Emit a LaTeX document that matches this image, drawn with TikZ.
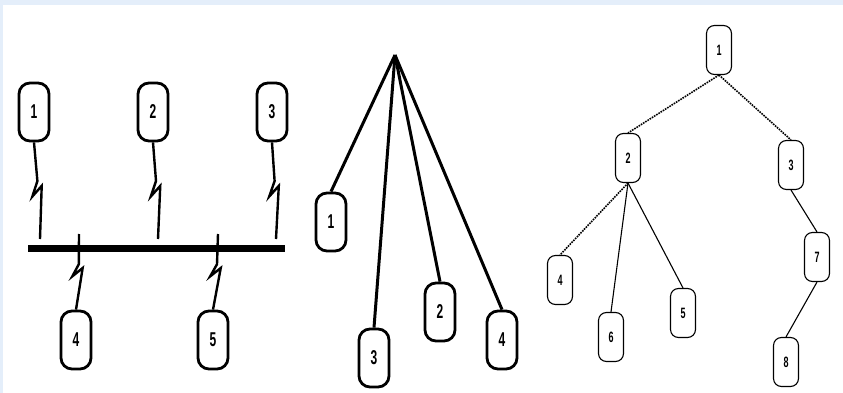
\documentclass[tikz,border=0pt]{standalone}
\usepackage{fontspec}
\usepackage{graphicx}
\setmainfont{Liberation Sans}
\usetikzlibrary{calc}
\definecolor{bgblue}{HTML}{E4EEFA}
\newcommand\bigdig[1]{\scalebox{0.6}[1]{\fontsize{20}{20}\selectfont\bfseries #1}}
\newcommand\smalldig[1]{\scalebox{0.6}[1]{\fontsize{15}{15}\selectfont\bfseries #1}}
\newcommand\boltline[2]{\draw[boltstyle] (#1) -- ($(#1)!0.40!(#2)+(1,0)$) -- ($(#1)!0.56!(#2)+(-5,0)$) -- ($(#1)!0.45!(#2)+(5,0)$) -- (#2);}
\begin{document}
\begin{tikzpicture}[x=1pt,y=-1pt,
  bignode/.style={draw, line width=2.8pt, rounded corners=11pt, minimum width=30pt, minimum height=58pt, inner sep=0pt},
  smallnode/.style={draw, line width=1.1pt, rounded corners=8pt, minimum width=25pt, minimum height=49pt, inner sep=0pt},
  boltstyle/.style={line width=2.4pt, line join=miter},
  spoke/.style={line width=3pt},
  treeedge/.style={line width=1.1pt},
  thickedge/.style={line width=1.6pt, densely dotted}]
\useasboundingbox (0,0) rectangle (843,393);
\fill[bgblue] (0,0) rectangle (843,393);
\fill[white] (3,5) rectangle (843,393);

% ---------- left: bus ----------
\coordinate (busL) at (28,248);
\coordinate (busR) at (285,248);
\draw[line width=7pt] (busL) -- (busR);
\node[bignode] (n1) at (34,112) {\bigdig{1}};
\node[bignode] (n2) at (153,112) {\bigdig{2}};
\node[bignode] (n3) at (272,112) {\bigdig{3}};
\node[bignode] (n4) at (76,340) {\bigdig{4}};
\node[bignode] (n5) at (213,340) {\bigdig{5}};
\coordinate (t1) at (40,239);
\coordinate (t2) at (158,239);
\coordinate (t3) at (276,239);
\coordinate (t4) at (79,234);
\coordinate (t5) at (218,234);
\boltline{n1.south}{t1}
\boltline{n2.south}{t2}
\boltline{n3.south}{t3}
\boltline{t4}{n4.north}
\boltline{t5}{n5.north}

% ---------- middle: star ----------
\coordinate (apex) at (395,55);
\node[bignode] (m1) at (331,222) {\bigdig{1}};
\node[bignode] (m3) at (374,358) {\bigdig{3}};
\node[bignode] (m2) at (440,312) {\bigdig{2}};
\node[bignode] (m4) at (502,340) {\bigdig{4}};
\draw[spoke] (apex) -- (m1.north);
\draw[spoke] (apex) -- (m3.north);
\draw[spoke] (apex) -- (m2.north);
\draw[spoke] (apex) -- (m4.north);

% ---------- right: tree ----------
\node[smallnode] (r1) at (719,50) {\smalldig{1}};
\node[smallnode] (r2) at (628,158) {\smalldig{2}};
\node[smallnode] (r3) at (791,165) {\smalldig{3}};
\node[smallnode] (r4) at (560,280) {\smalldig{4}};
\node[smallnode] (r6) at (611,337) {\smalldig{6}};
\node[smallnode] (r5) at (683,313) {\smalldig{5}};
\node[smallnode] (r7) at (817,257) {\smalldig{7}};
\node[smallnode] (r8) at (786,362) {\smalldig{8}};
\draw[thickedge] (r1.south) -- (r2.north);
\draw[thickedge] (r1.south) -- (r3.north);
\draw[thickedge] (r2.south) -- (r4.north);
\draw[treeedge] (r2.south) -- (r6.north);
\draw[treeedge] (r2.south) -- (r5.north);
\draw[treeedge] (r3.south) -- (r7.north);
\draw[treeedge] (r7.south) -- (r8.north);
\end{tikzpicture}
\end{document}
